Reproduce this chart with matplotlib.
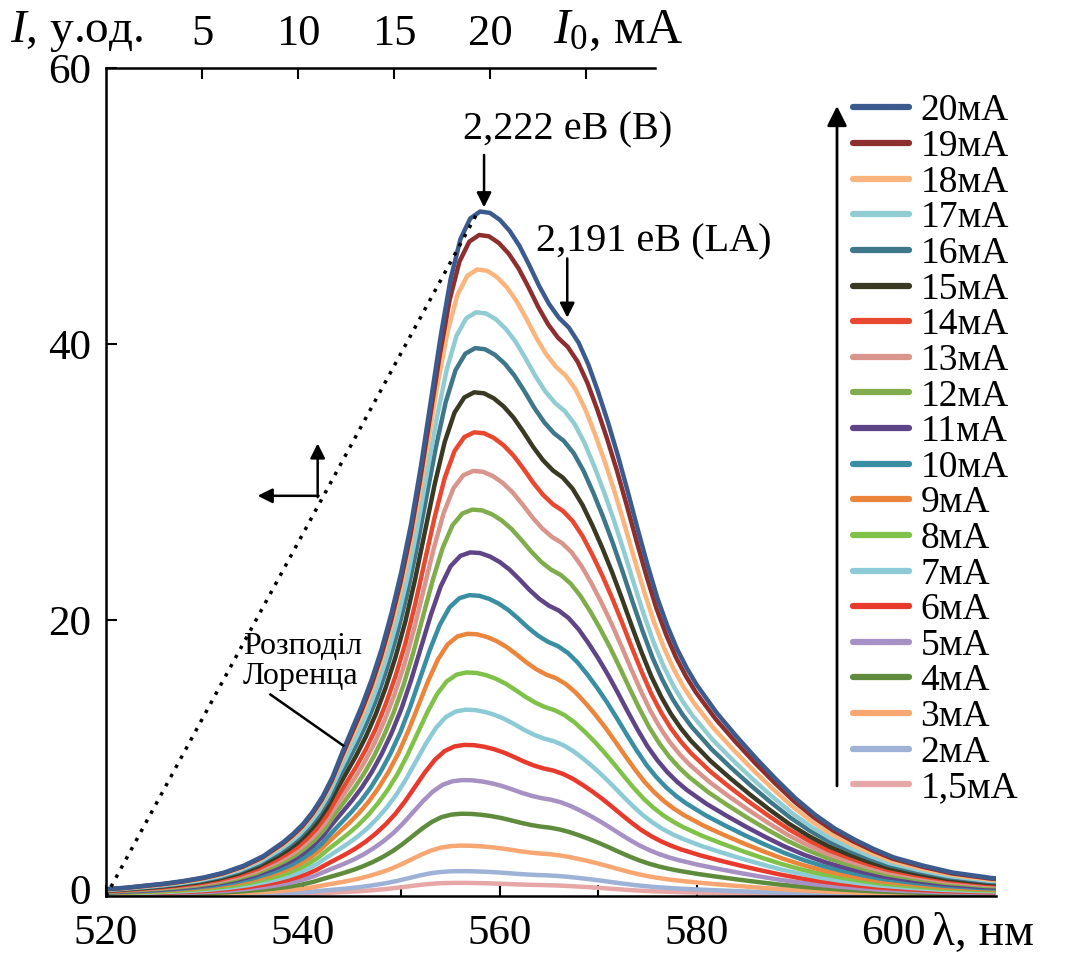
import numpy as np
import matplotlib
matplotlib.use("Agg")
import matplotlib.pyplot as plt
import matplotlib.transforms as mtransforms

plt.rcParams["font.family"] = ["Liberation Serif", "DejaVu Serif"]
plt.rcParams["mathtext.fontset"] = "custom"
plt.rcParams["mathtext.rm"] = "Liberation Serif"
plt.rcParams["mathtext.it"] = "Liberation Serif:italic"

# Спектр при 20 мА, нм / у.од.
wavelength = [520, 522, 524, 526, 528, 530, 532, 534, 536, 537, 538, 539, 540, 541,
              542, 543, 544, 545, 546, 547, 548, 549, 550, 551, 552, 553, 554, 555,
              556, 557, 558, 559, 560, 561, 562, 563, 564, 565, 566, 567, 568, 569,
              570, 571, 572, 573, 574, 575, 576, 577, 578, 579, 580, 582, 584, 586,
              588, 590, 592, 594, 596, 598, 600, 603, 606, 610, 612]
spectrum_20ma = [0.5, 0.6, 0.75, 0.9, 1.1, 1.35, 1.7, 2.2, 2.9, 3.4, 3.9, 4.5, 5.2, 6.1,
                 7.2, 8.6, 10.4, 12.1, 13.8, 15.7, 17.9, 20.5, 23.5, 27.0, 31.2, 35.9, 40.6, 44.7,
                 47.6, 49.1, 49.6, 49.5, 49.0, 48.2, 47.1, 45.7, 44.2, 42.9, 41.9, 41.2, 40.1, 38.5,
                 36.5, 34.3, 31.9, 29.3, 26.6, 24.0, 21.6, 19.6, 17.9, 16.5, 15.3, 13.3, 11.6, 10.0,
                 8.5, 7.1, 5.9, 4.9, 4.1, 3.4, 2.8, 2.2, 1.7, 1.3, 1.2]

# струм накачки, максимум інтенсивності і положення максимуму для кожної кривої
labels = ["20мА", "19мА", "18мА", "17мА", "16мА", "15мА", "14мА", "13мА", "12мА", "11мА",
          "10мА", "9мА", "8мА", "7мА", "6мА", "5мА", "4мА", "3мА", "2мА", "1,5мА"]
peak_height = [49.6, 47.9, 45.4, 42.3, 39.7, 36.5, 33.6, 30.8, 28.0, 24.9,
               21.8, 19.0, 16.2, 13.5, 10.95, 8.4, 5.96, 3.65, 1.8, 0.95]
peak_position = [558.4, 558.3, 558.1, 558.0, 557.9, 557.8, 557.8, 557.7, 557.6, 557.4,
                 557.3, 557.1, 557.0, 556.9, 556.8, 556.6, 556.5, 556.4, 556.2, 556.0]
colors = ["#3b5b8f", "#8e2f2f", "#fbb47c", "#90ccd2", "#3e7789", "#3a3a24", "#e84830",
          "#d9948c", "#80ad4c", "#5f4488", "#3a8ea3", "#eb853b", "#80c249", "#8ccbd6",
          "#e83a2c", "#a690c4", "#5f8c3c", "#f8a672", "#9db2d6", "#e6a7a6"]

# залежність максимуму від струму (пунктир, верхня вісь)
dotted_current = [0, 19.3]
dotted_intensity = [0, 49.4]

fig = plt.figure(figsize=(10.72, 9.57), dpi=100)
ax = fig.add_axes([106 / 1072, 61 / 957, 890 / 1072, 828 / 957])

wl = np.array(wavelength)
base = np.array(spectrum_20ma)
lines = []
for i in reversed(range(len(labels))):
    x = wl + (peak_position[i] - peak_position[0])
    y = base / base.max() * peak_height[i]
    ln, = ax.plot(x, y, color=colors[i], lw=3.2, label=labels[i],
                  solid_joinstyle="round", solid_capstyle="round")
    lines.append(ln)

ax.set_xlim(520, 610.4)
ax.set_ylim(0, 60)
ax.set_xticks(range(520, 611, 10))
ax.set_xticklabels(["520", "", "540", "", "560", "", "580", "", "600", ""])
ax.set_yticks([0, 20, 40, 60])
ax.tick_params(direction="in", length=8, width=1.5, labelsize=31)
ax.tick_params(axis="x", pad=13)
ax.tick_params(axis="y", pad=11)
ax.spines["top"].set_visible(False)
ax.spines["right"].set_visible(False)
for s in ["left", "bottom"]:
    ax.spines[s].set_linewidth(1.8)

# трохи підняти підпис "0", щоб не налазив на "520"
zero_label = ax.get_yticklabels()[0]
zero_label.set_transform(zero_label.get_transform() +
                         mtransforms.ScaledTranslation(0, 5 / 72, fig.dpi_scale_trans))

# верхня вісь струму
ax2 = ax.twiny()
ax2.set_xlim(0, 890 / 19.2)
ax2.plot(dotted_current, dotted_intensity, color="black", lw=2.5,
         linestyle=(0, (1, 2)))
ax2.set_xticks([5, 10, 15, 20, 25])
ax2.set_xticklabels(["5", "10", "15", "20", ""])
ax2.tick_params(axis="x", direction="in", length=8, width=1.5, labelsize=32, pad=10)
for s in ["bottom", "left", "right"]:
    ax2.spines[s].set_visible(False)
ax2.spines["top"].set_bounds(0, 28.6)
ax2.spines["top"].set_linewidth(1.8)

fig.text(10 / 1072, 1 - 31 / 957, "$I$, у.од.", fontsize=34, va="center", ha="left")
fig.text(553 / 1072, 1 - 31 / 957, "$I_0$, мА", fontsize=36, va="center", ha="left")
fig.text(932 / 1072, 1 - 934 / 957, "λ, нм", fontsize=34, va="center", ha="left")

# анотації
arrow = dict(arrowstyle="-|>", color="black", lw=1.8, mutation_scale=22,
             shrinkA=0, shrinkB=0)
ax.annotate("", xy=(558.4, 49.9), xytext=(558.4, 53.7), arrowprops=arrow)
ax.text(566.9, 55.5, "2,222 еВ (B)", fontsize=29, ha="center", va="center")
ax.annotate("", xy=(566.85, 41.9), xytext=(566.85, 46.2), arrowprops=arrow)
ax.text(575.6, 47.4, "2,191 еВ (LA)", fontsize=29, ha="center", va="center")

ax.text(533.9, 17.0, "Розподіл\nЛоренца", fontsize=23, ha="left", va="center",
        linespacing=1.05)
ax.plot([536.7, 544.1], [14.6, 10.9], color="black", lw=1.8)

ax.annotate("", xy=(541.5, 32.8), xytext=(541.5, 28.9), arrowprops=arrow)
ax.annotate("", xy=(535.4, 29.0), xytext=(541.6, 29.0), arrowprops=arrow)

leg = ax.legend(handles=lines[::-1], loc="upper left",
                bbox_to_anchor=(853 / 1072, 1 - 94 / 957),
                bbox_transform=fig.transFigure, frameon=False, fontsize=27,
                handlelength=1.5, handletextpad=0.3, labelspacing=0.03,
                borderpad=0, borderaxespad=0)
for h in leg.get_lines():
    h.set_linewidth(4.5)

ax.annotate("", xy=(837 / 1072, 1 - 106 / 957), xytext=(837 / 1072, 1 - 786 / 957),
            xycoords="figure fraction", textcoords="figure fraction",
            arrowprops=dict(arrowstyle="-|>", color="black", lw=2, mutation_scale=30,
                            shrinkA=0, shrinkB=0))

fig.savefig("out.png", dpi=100)
